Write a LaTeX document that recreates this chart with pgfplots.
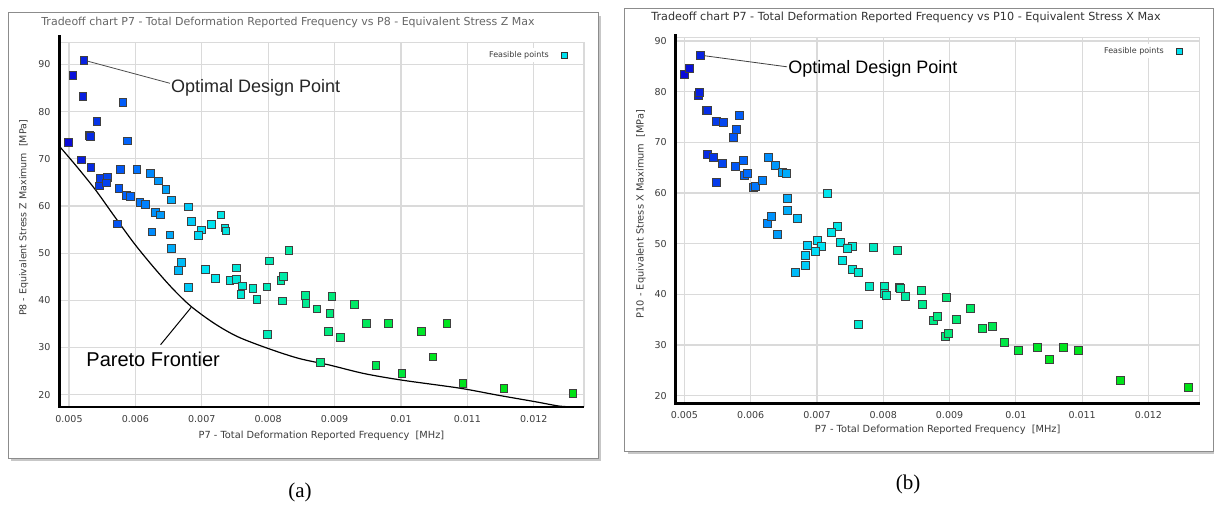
\documentclass[border=0pt]{standalone}
\usepackage{pgfplots}
\pgfplotsset{compat=1.18}
\usepackage{fontspec}
\setmainfont{Liberation Sans}
\newfontfamily\dv{DejaVu Sans}
\newfontfamily\capfont{Liberation Serif}
\definecolor{gridgray}{RGB}{218,218,218}
\definecolor{ticktext}{RGB}{60,60,60}
\definecolor{legcyan}{RGB}{0,225,240}

\pgfplotstableread{
x y
0.005225 90.9
0.00506 87.7
0.00521 83.2
0.00581 82.0
0.00542 77.9
0.00531 75.0
0.00532 74.7
0.00499 73.5
0.00588 73.8
0.00519 69.8
0.00533 68.2
0.00547 65.8
0.00546 64.3
0.00558 66.1
0.00556 64.9
0.00577 67.8
0.00602 67.8
0.00575 63.7
0.00586 62.3
0.00592 62.1
0.00607 60.8
0.00615 60.3
0.00623 66.9
0.00635 65.3
0.00646 63.5
0.00654 61.3
0.00630 58.7
0.00638 58.1
0.00573 56.2
0.00625 54.5
0.00652 53.9
0.00654 51.0
0.00680 59.8
0.00684 56.7
0.00699 54.9
0.00695 53.8
0.00714 56.1
0.00729 58.1
0.00735 55.4
0.00736 54.7
0.00669 48.1
0.00665 46.3
0.00680 42.8
0.00705 46.6
0.00720 44.7
0.00752 46.9
0.00742 44.2
0.00752 44.5
0.00761 43.1
0.00759 41.3
0.00777 42.5
0.00783 40.2
0.00798 42.9
0.00802 48.4
0.00819 44.3
0.00823 45.1
0.00831 50.6
0.00821 39.9
0.00856 41.0
0.00857 39.4
0.00873 38.2
0.00896 40.8
0.00893 37.2
0.00930 39.2
0.00948 35.1
0.00981 35.1
0.01069 35.1
0.01031 33.4
0.00891 33.4
0.00909 32.1
0.00799 32.8
0.01048 28.0
0.00879 26.8
0.00962 26.2
0.01001 24.5
0.01093 22.4
0.01155 21.3
0.01259 20.3
}\dataA

\pgfplotstableread{
x y
0.00486 72.6
0.00512 68.3
0.00540 63.4
0.00569 57.7
0.00598 52.1
0.00627 47.1
0.00656 42.5
0.00684 38.7
0.00719 35.1
0.00754 32.3
0.00800 29.8
0.00846 27.7
0.00892 26.3
0.00944 24.5
0.01001 23.1
0.01088 21.4
0.01146 19.9
0.01203 18.5
0.01238 17.6
0.01262 17.4
}\pareto

\pgfplotstableread{
x y
0.00500 83.5
0.00507 84.6
0.00524 87.2
0.00521 79.3
0.00523 79.9
0.00533 76.3
0.00535 76.4
0.00548 74.1
0.00559 73.9
0.00583 75.4
0.00579 72.6
0.00574 70.9
0.00534 67.7
0.00544 67.1
0.00557 65.9
0.00548 62.1
0.00577 65.3
0.00589 66.4
0.00590 63.4
0.00595 63.8
0.00604 61.2
0.00607 61.3
0.00617 62.4
0.00627 67.0
0.00637 65.5
0.00648 64.1
0.00654 63.9
0.00655 59.0
0.00655 56.6
0.00670 54.9
0.00716 59.9
0.00625 54.0
0.00631 55.3
0.00640 51.8
0.00730 53.5
0.00722 52.2
0.00735 50.2
0.00754 49.4
0.00746 49.0
0.00701 50.6
0.00707 49.5
0.00697 48.4
0.00685 49.6
0.00683 47.7
0.00683 45.7
0.00667 44.3
0.00739 46.8
0.00754 45.0
0.00762 44.3
0.00785 49.3
0.00821 48.6
0.00779 41.6
0.00801 41.6
0.00801 40.2
0.00805 39.9
0.00824 41.4
0.00826 41.1
0.00833 39.7
0.00857 40.7
0.00859 38.0
0.00895 39.5
0.00875 34.8
0.00882 35.7
0.00893 31.8
0.00898 32.4
0.00911 35.1
0.00932 37.3
0.00950 33.3
0.00964 33.6
0.00762 34.1
0.00983 30.6
0.01004 28.9
0.01033 29.6
0.01050 27.2
0.01071 29.6
0.01094 28.9
0.01157 23.1
0.01261 21.6
}\dataB

\pgfplotsset{
  tradeoff/.style={
    scale only axis, anchor=south west, clip=false,
    axis line style={draw=none},
    major tick length=0pt,
    grid=major, major grid style={gridgray, line width=1.2pt},
    scaled x ticks=false, scaled y ticks=false,
    xtick={0.005,0.006,0.007,0.008,0.009,0.01,0.011,0.012},
    xticklabels={0.005,0.006,0.007,0.008,0.009,0.01,0.011,0.012},
    ytick={20,30,40,50,60,70,80,90},
    yticklabels={20,30,40,50,60,70,80,90},
    xticklabel style={font=\dv\fontsize{9.5}{11}\selectfont, text=ticktext, yshift=-4.5pt},
    yticklabel style={font=\dv\fontsize{9.5}{11}\selectfont, text=ticktext, xshift=-5.5pt},
    colormap={trade}{rgb255(0cm)=(10,10,215); rgb255(13cm)=(0,110,255); rgb255(27cm)=(0,228,245); rgb255(46cm)=(0,235,150); rgb255(72cm)=(0,230,30); rgb255(100cm)=(0,225,20)},
    point meta min=0.005, point meta max=0.0126,
    legend plot pos=right,
    legend style={draw=none, fill=white, anchor=east, inner sep=1pt,
      font=\dv\fontsize{8}{9}\selectfont, text=ticktext, column sep=10pt},
  },
  feas/.style={scatter, only marks, mark=square*, scatter src=x,
    scatter/use mapped color={draw=black!75, fill=mapped color},
    mark options={line width=0.7pt}, forget plot},
}

\begin{document}
\begin{tikzpicture}
\path[use as bounding box] (0,0) rectangle (1214pt,506pt);
% frames
\fill[black!22] (10.7pt,45pt) rectangle (601pt,490.3pt);
\draw[black!45, fill=white] (7.7pt,48pt) rectangle (598pt,493.3pt);
\fill[black!22] (627.5pt,52pt) rectangle (1216pt,494.7pt);
\draw[black!45, fill=white] (624.5pt,55pt) rectangle (1213pt,497.7pt);

% panel (a)
\begin{axis}[tradeoff, at={(59.4pt,99pt)}, width=524.6pt, height=364.3pt,
  xmin=0.004856, xmax=0.012756, ymin=17.4, ymax=94.6,
  legend style={at={(rel axis cs:0.9695,0.966)}}]
\addlegendimage{only marks, mark=square*, mark size=3pt, mark options={fill=legcyan, draw=black!80, line width=0.6pt}}
\addlegendentry{Feasible points}
\draw[gridgray, line width=1.2pt] (rel axis cs:0,1) -- (rel axis cs:1,1) -- (rel axis cs:1,0);
\addplot[black, line width=1.2pt, smooth, tension=0.5, forget plot] table {\pareto};
\addplot[feas, mark size=3.8pt] table {\dataA};
\draw[black, line width=2.6pt] (rel axis cs:0,1.02) -- (rel axis cs:0,0) -- (rel axis cs:1,0);
\draw[black!70, line width=0.8pt] (axis cs:0.005225,90.9) -- (axis cs:0.00652,86.0);
\node[anchor=west, inner sep=1pt, font=\fontsize{18}{20}\selectfont, text=black!85] at (axis cs:0.00652,85.1) {Optimal Design Point};
\draw[black, line width=1pt] (axis cs:0.00638,30.6) -- (axis cs:0.00684,38.5);
\node[anchor=west, inner sep=0pt, font=\fontsize{20}{22}\selectfont] at (axis cs:0.00526,27.6) {Pareto Frontier};
\end{axis}

% panel (b)
\begin{axis}[tradeoff, at={(675.7pt,102.7pt)}, width=523.8pt, height=365.6pt,
  xmin=0.004869, xmax=0.012771, ymin=18.5, ymax=90.65,
  legend style={at={(rel axis cs:0.9685,0.9636)}}]
\addlegendimage{only marks, mark=square*, mark size=3pt, mark options={fill=legcyan, draw=black!80, line width=0.6pt}}
\addlegendentry{Feasible points}
\draw[gridgray, line width=1.2pt] (rel axis cs:0,1) -- (rel axis cs:1,1) -- (rel axis cs:1,0);
\addplot[feas, mark size=4pt] table {\dataB};
\draw[black, line width=2.6pt] (rel axis cs:0,1.01) -- (rel axis cs:0,0) -- (rel axis cs:1,0);
\draw[black!75, line width=0.8pt] (axis cs:0.00524,87.2) -- (axis cs:0.00655,84.9);
\node[anchor=west, inner sep=1pt, font=\fontsize{18}{20}\selectfont] at (axis cs:0.00655,84.5) {Optimal Design Point};
\end{axis}

% titles and labels
\node[font=\dv\fontsize{11}{13}\selectfont, text=black!60] at (288pt,483.3pt) {Tradeoff chart P7 - Total Deformation Reported Frequency vs P8 - Equivalent Stress Z Max};
\node[font=\dv\fontsize{11.2}{13}\selectfont, text=black!80] at (906pt,488.3pt) {Tradeoff chart P7 - Total Deformation Reported Frequency vs P10 - Equivalent Stress X Max};
\node[font=\dv\fontsize{9.8}{11}\selectfont, text=ticktext] at (321.5pt,70pt) {P7 - Total Deformation Reported Frequency\ \ [MHz]};
\node[font=\dv\fontsize{9.8}{11}\selectfont, text=ticktext] at (937.6pt,76pt) {P7 - Total Deformation Reported Frequency\ \ [MHz]};
\node[rotate=90, font=\dv\fontsize{9.5}{11}\selectfont, text=ticktext] at (23.8pt,288pt) {P8 - Equivalent Stress Z Maximum\ \ [MPa]};
\node[rotate=90, font=\dv\fontsize{9.8}{11}\selectfont, text=ticktext] at (640.8pt,292pt) {P10 - Equivalent Stress X Maximum\ \ [MPa]};
% captions
\node[font=\capfont\fontsize{21}{24}\selectfont] at (300pt,14pt) {(a)};
\node[font=\capfont\fontsize{21}{24}\selectfont] at (908pt,22pt) {(b)};
\end{tikzpicture}
\end{document}
